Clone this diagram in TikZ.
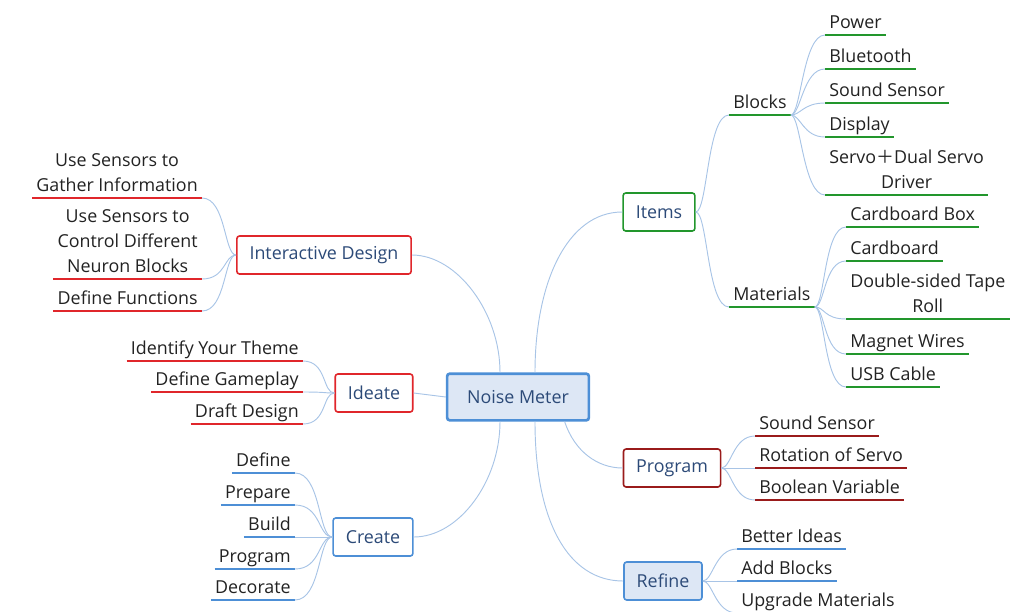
\documentclass[tikz,border=0pt]{standalone}
\usepackage{fontspec}
\setmainfont{Open Sans}
\newfontfamily\cjkfont{Noto Sans CJK SC}
\usetikzlibrary{positioning}

\definecolor{linkblue}{HTML}{A8C4E6}
\definecolor{navy}{HTML}{2C4A78}
\definecolor{leaftext}{HTML}{222222}
\definecolor{mmred}{HTML}{E0262B}
\definecolor{mmdarkred}{HTML}{9A1B1B}
\definecolor{mmgreen}{HTML}{22962C}
\definecolor{mmblue}{HTML}{4D8FD6}
\definecolor{mmfill}{HTML}{DDE7F5}

\begin{document}
\begin{tikzpicture}[
  x=0.75pt,y=-0.75pt,
  font=\fontsize{13.4}{18.75}\selectfont,
  topic/.style={draw=#1,rounded corners=2pt,line width=1.2pt,fill=white,text=navy,minimum height=28.5pt,inner xsep=9.5pt},
  leafl/.style={anchor=south east,align=center,text=leaftext,text depth=0pt,inner xsep=3pt,inner ysep=4.5pt,
    append after command={(\tikzlastnode.south west) edge[line width=1.6pt,draw=#1] (\tikzlastnode.south east)}},
  leafr/.style={leafl=#1,anchor=south west},
  link/.style={draw=linkblue,line width=0.7pt}]
\useasboundingbox (0,0) rectangle (1032,611);

% central topic and main branches
\node[topic=mmblue,fill=mmfill,line width=2pt,minimum height=35pt,inner xsep=15pt] (nm) at (518,397) {Noise Meter};
\node[topic=mmred] (id) at (324,255) {Interactive Design};
\node[topic=mmred] (ide) at (374,393) {Ideate};
\node[topic=mmblue] (cr) at (373,537) {Create};
\node[topic=mmgreen] (it) at (659,212) {Items};
\node[topic=mmdarkred] (pg) at (672,468) {Program};
\node[topic=mmblue,fill=mmfill] (rf) at (663,581) {Refine};

\draw[link] ([xshift=-13.5pt]nm.north) .. controls +(0,-60) and +(45,0) .. (id.east);
\draw[link] ([xshift=12.75pt]nm.north) .. controls +(0,-90) and +(-55,0) .. (it.west);
\draw[link] (nm.west) -- (ide.east);
\draw[link] ([xshift=-13.5pt]nm.south) .. controls +(0,60) and +(45,0) .. (cr.east);
\draw[link] ([xshift=35pt]nm.south) .. controls +(10,30) and +(-25,0) .. (pg.west);
\draw[link] ([xshift=12.75pt]nm.south) .. controls +(0,100) and +(-55,0) .. (rf.west);

% interactive design
\node[leafl=mmred] (id1) at (202,198) {Use Sensors to\\Gather Information};
\node[leafl=mmred] (id2) at (202,279) {Use Sensors to\\Control Different\\Neuron Blocks};
\node[leafl=mmred] (id3) at (202,311) {Define Functions};
\draw[link] (id.west) .. controls +(-12,0) and +(24,0) .. (id1.south east);
\draw[link] (id.west) .. controls +(-12,0) and +(24,0) .. (id2.south east);
\draw[link] (id.west) .. controls +(-12,0) and +(24,0) .. (id3.south east);

% ideate
\node[leafl=mmred] (ide1) at (303,361) {Identify Your Theme};
\node[leafl=mmred] (ide2) at (303,392) {Define Gameplay};
\node[leafl=mmred] (ide3) at (303,424) {Draft Design};
\draw[link] (ide.west) .. controls +(-12,0) and +(24,0) .. (ide1.south east);
\draw[link] (ide.west) .. controls +(-12,0) and +(24,0) .. (ide2.south east);
\draw[link] (ide.west) .. controls +(-12,0) and +(24,0) .. (ide3.south east);

% create
\node[leafl=mmblue] (cr1) at (295,473) {Define};
\node[leafl=mmblue] (cr2) at (295,505) {Prepare};
\node[leafl=mmblue] (cr3) at (295,537) {Build};
\node[leafl=mmblue] (cr4) at (295,569) {Program};
\node[leafl=mmblue] (cr5) at (295,600) {Decorate};
\draw[link] (cr.west) .. controls +(-14,0) and +(26,0) .. (cr1.south east);
\draw[link] (cr.west) .. controls +(-14,0) and +(26,0) .. (cr2.south east);
\draw[link] (cr.west) -- (cr3.south east);
\draw[link] (cr.west) .. controls +(-14,0) and +(26,0) .. (cr4.south east);
\draw[link] (cr.west) .. controls +(-14,0) and +(26,0) .. (cr5.south east);

% items
\node[leafr=mmgreen] (blk) at (729,115) {Blocks};
\node[leafr=mmgreen] (mat) at (729,307) {Materials};
\draw[link] (it.east) .. controls +(12,0) and +(-22,0) .. (blk.south west);
\draw[link] (it.east) .. controls +(12,0) and +(-22,0) .. (mat.south west);

\node[leafr=mmgreen] (b1) at (825,35) {Power};
\node[leafr=mmgreen] (b2) at (825,69) {Bluetooth};
\node[leafr=mmgreen] (b3) at (825,103) {Sound Sensor};
\node[leafr=mmgreen] (b4) at (825,137) {Display};
\node[leafr=mmgreen] (b5) at (825,195) {Servo{\cjkfont ＋}Dual Servo\\Driver};
\draw[link] (blk.south east) .. controls +(10,0) and +(-22,0) .. (b1.south west);
\draw[link] (blk.south east) .. controls +(10,0) and +(-22,0) .. (b2.south west);
\draw[link] (blk.south east) .. controls +(10,0) and +(-22,0) .. (b3.south west);
\draw[link] (blk.south east) .. controls +(10,0) and +(-22,0) .. (b4.south west);
\draw[link] (blk.south east) .. controls +(10,0) and +(-22,0) .. (b5.south west);

\node[leafr=mmgreen] (m1) at (846,227) {Cardboard Box};
\node[leafr=mmgreen] (m2) at (846,261) {Cardboard};
\node[leafr=mmgreen] (m3) at (846,319) {Double-sided Tape\\Roll};
\node[leafr=mmgreen] (m4) at (846,354) {Magnet Wires};
\node[leafr=mmgreen] (m5) at (846,387) {USB Cable};
\draw[link] (mat.south east) .. controls +(10,0) and +(-22,0) .. (m1.south west);
\draw[link] (mat.south east) .. controls +(10,0) and +(-22,0) .. (m2.south west);
\draw[link] (mat.south east) .. controls +(10,0) and +(-22,0) .. (m3.south west);
\draw[link] (mat.south east) .. controls +(10,0) and +(-22,0) .. (m4.south west);
\draw[link] (mat.south east) .. controls +(10,0) and +(-22,0) .. (m5.south west);

% program
\node[leafr=mmdarkred] (p1) at (755,436) {Sound Sensor};
\node[leafr=mmdarkred] (p2) at (755,468) {Rotation of Servo};
\node[leafr=mmdarkred] (p3) at (755,500) {Boolean Variable};
\draw[link] (pg.east) .. controls +(10,0) and +(-22,0) .. (p1.south west);
\draw[link] (pg.east) -- (p2.south west);
\draw[link] (pg.east) .. controls +(10,0) and +(-22,0) .. (p3.south west);

% refine
\node[leafr=mmblue] (r1) at (737,549) {Better Ideas};
\node[leafr=mmblue] (r2) at (737,581) {Add Blocks};
\node[leafr=mmblue] (r3) at (737,613) {Upgrade Materials};
\draw[link] (rf.east) .. controls +(10,0) and +(-22,0) .. (r1.south west);
\draw[link] (rf.east) -- (r2.south west);
\draw[link] (rf.east) .. controls +(10,0) and +(-22,0) .. (r3.south west);
\end{tikzpicture}
\end{document}
